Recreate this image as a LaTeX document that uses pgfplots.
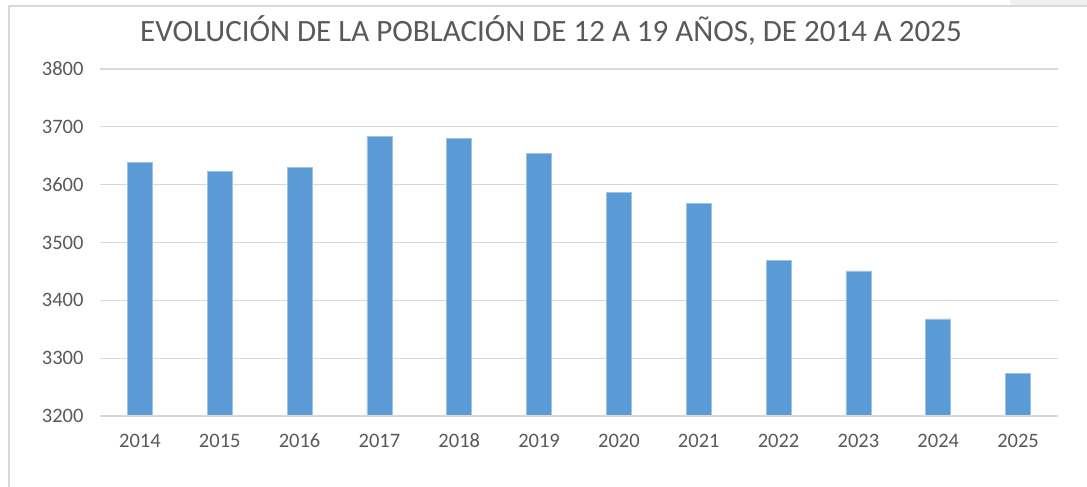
\documentclass[border=0pt]{standalone}
\usepackage{fontspec}
\setmainfont{Carlito}
\usepackage{pgfplots}
\pgfplotsset{compat=1.18}
\definecolor{barblue}{HTML}{5B9BD5}
\definecolor{txtgray}{HTML}{595959}
\definecolor{gridgray}{HTML}{D9D9D9}
\begin{document}
\begin{tikzpicture}[x=1pt,y=1pt]
\useasboundingbox (0,0) rectangle (1087,487);
\fill[white] (0,0) rectangle (1087,487);
\fill[black!6] (1010,481) rectangle (1087,487);
\draw[gridgray,line width=1.2pt] (9,0) -- (9,481) -- (1087,481);
\node[text=txtgray,font=\fontsize{31}{36}\selectfont] at (551,456) {EVOLUCIÓN DE LA POBLACIÓN DE 12 A 19 AÑOS, DE 2014 A 2025};
\begin{axis}[
  at={(100pt,71pt)}, anchor=south west,
  scale only axis, width=958pt, height=347pt,
  xmin=-0.5, xmax=11.5, ymin=3200, ymax=3800,
  ytick={3200,3300,...,3800},
  xtick={0,...,11},
  xticklabels={2014,2015,2016,2017,2018,2019,2020,2021,2022,2023,2024,2025},
  axis line style={draw=none},
  axis x line*=bottom, axis y line*=left,
  major tick length=0pt,
  ymajorgrids, grid style={gridgray,line width=1.2pt},
  ticklabel style={text=txtgray,font=\fontsize{20.5}{24}\selectfont},
  /pgf/number format/assume math mode=true,
  /pgf/number format/1000 sep={},
  yticklabel style={xshift=-13pt},
  xticklabel style={anchor=base, yshift=-32pt},
  clip=false,
]
\addplot[ybar, bar width=25pt, fill=barblue, draw=barblue!60, line width=0.6pt] coordinates {
(0,3639) (1,3623) (2,3630) (3,3683) (4,3680) (5,3654)
(6,3586) (7,3568) (8,3469) (9,3451) (10,3368) (11,3274)
};
\draw[gridgray,line width=1.2pt] (axis cs:-0.5,3200) -- (axis cs:11.5,3200);
\end{axis}
\end{tikzpicture}
\end{document}
